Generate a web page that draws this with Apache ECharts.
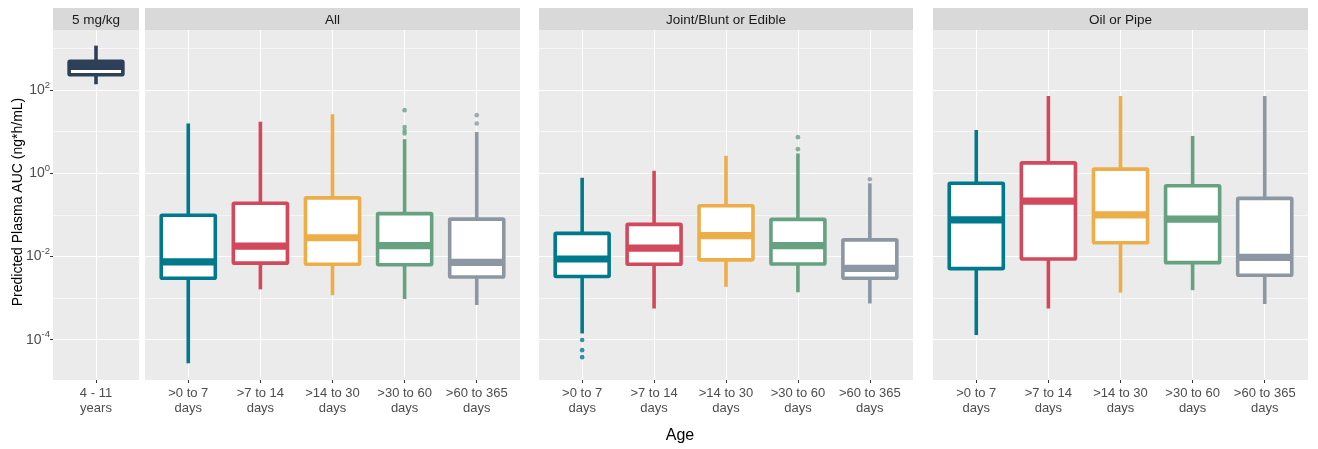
<!DOCTYPE html>
<html><head><meta charset="utf-8">
<script src="https://cdn.jsdelivr.net/npm/echarts@6/dist/echarts.min.js"></script>
<style>html,body{margin:0;padding:0;background:#fff}#c{width:1318px;height:449px}</style>
</head><body><div id="c"></div>
<script>
// ---------- data ----------
const panelTitles = ['5 mg/kg', 'All', 'Joint/Blunt or Edible', 'Oil or Pipe'];
const doseCategories = ['4 - 11\nyears'];
const ageCategories = ['>0 to 7\ndays', '>7 to 14\ndays', '>14 to 30\ndays', '>30 to 60\ndays', '>60 to 365\ndays'];
const yLabelExponents = [-4, -2, 0, 2];
const yGridExponents = [-4, -3, -2, -1, 0, 1, 2, 3];
const yAxisTitle = 'Predicted Plasma AUC (ng*h/mL)';
const xAxisTitle = 'Age';

// five-number summaries per box: [lower whisker, Q1, median, Q3, upper whisker] in ng*h/mL
const dose5mgkg = [[138, 234, 372, 490, 1175]];
const dose5mgkgOutliers = [[]];

const allRoutes = [
  [2.7e-5, 0.0030, 0.0074, 0.098, 15.8],
  [0.00162, 0.0069, 0.0178, 0.19, 17.4],
  [0.00117, 0.0065, 0.0282, 0.257, 26.3],
  [0.00095, 0.0063, 0.0182, 0.107, 6.6],
  [0.00068, 0.0032, 0.0072, 0.079, 9.8]
];
const allRoutesOutliers = [[], [], [], [9.1, 10.5, 12.9, 33], [15.8, 25]];

const jointEdible = [
  [1.41e-4, 0.0033, 0.0087, 0.036, 0.78],
  [5.6e-4, 0.0065, 0.0158, 0.059, 1.15],
  [0.00186, 0.0083, 0.0316, 0.166, 2.63],
  [0.00138, 0.0066, 0.0182, 0.078, 3.0],
  [7.4e-4, 0.0030, 0.0052, 0.025, 0.575]
];
const jointEdibleOutliers = [[9.8e-5, 5.6e-5, 3.8e-5], [], [], [3.8, 7.4], [0.72]];

const oilPipe = [
  [1.29e-4, 0.0051, 0.076, 0.575, 11],
  [5.6e-4, 0.0087, 0.214, 1.78, 72],
  [0.00135, 0.0214, 0.10, 1.26, 72],
  [0.00155, 0.0071, 0.079, 0.50, 7.9],
  [7.2e-4, 0.00355, 0.0095, 0.25, 72]
];
const oilPipeOutliers = [[], [], [], [], []];

// ---------- styling ----------
const ageColors = ['#00798c', '#d1495b', '#edae49', '#66a182', '#8d96a3'];
const doseColors = ['#2e4057'];
const FONT = '"Liberation Sans", Arial, sans-serif';
const BOX_WIDTH = 0.75;
const LW = 3.6;
const Y_MIN = -4.97, Y_MAX = 3.445;

const panels = [
  { title: panelTitles[0], cats: doseCategories, stats: dose5mgkg, outliers: dose5mgkgOutliers, colors: doseColors, left: 53, width: 86 },
  { title: panelTitles[1], cats: ageCategories, stats: allRoutes, outliers: allRoutesOutliers, colors: ageColors, left: 145, width: 375 },
  { title: panelTitles[2], cats: ageCategories, stats: jointEdible, outliers: jointEdibleOutliers, colors: ageColors, left: 539, width: 374 },
  { title: panelTitles[3], cats: ageCategories, stats: oilPipe, outliers: oilPipeOutliers, colors: ageColors, left: 933, width: 375 }
];
const TOP = 30, HEIGHT = 350;

function makeBoxRenderer(colors) {
  return function (params, api) {
    const x = api.value(0);
    const c = colors[Math.round(x) - 1];
    const pLo = api.coord([x, api.value(1)]);
    const pQ1 = api.coord([x, api.value(2)]);
    const pMed = api.coord([x, api.value(3)]);
    const pQ3 = api.coord([x, api.value(4)]);
    const pHi = api.coord([x, api.value(5)]);
    const half = api.size([BOX_WIDTH, 0], [x, api.value(3)])[0] / 2;
    return {
      type: 'group',
      children: [
        { type: 'line', shape: { x1: pQ3[0], y1: pQ3[1], x2: pHi[0], y2: pHi[1] }, style: { stroke: c, lineWidth: LW } },
        { type: 'line', shape: { x1: pLo[0], y1: pLo[1], x2: pQ1[0], y2: pQ1[1] }, style: { stroke: c, lineWidth: LW } },
        { type: 'rect', shape: { x: pQ1[0] - half, y: pQ3[1], width: 2 * half, height: pQ1[1] - pQ3[1], r: 1 },
          style: { fill: '#ffffff', stroke: c, lineWidth: LW, lineJoin: 'round' } },
        { type: 'line', shape: { x1: pMed[0] - half, y1: pMed[1], x2: pMed[0] + half, y2: pMed[1] }, style: { stroke: c, lineWidth: LW * 2 } }
      ]
    };
  };
}

const grid = [], xAxis = [], yAxis = [], series = [], graphic = [];
panels.forEach((p, i) => {
  const n = p.cats.length;
  const idx = [];
  for (let k = 1; k <= n; k++) idx.push(k);
  grid.push({ left: p.left, top: TOP, width: p.width, height: HEIGHT, show: true, backgroundColor: '#EBEBEB', borderWidth: 0, containLabel: false });
  xAxis.push({
    type: 'value', gridIndex: i, min: 0.4, max: n + 0.6, position: 'bottom',
    axisLine: { show: false, onZero: false },
    axisTick: { show: true, length: 3, customValues: idx, lineStyle: { color: '#333333', width: 1 } },
    axisLabel: { customValues: idx, margin: 6, fontFamily: FONT, fontSize: 13, color: '#4D4D4D', lineHeight: 15,
      formatter: v => p.cats[Math.round(v) - 1] },
    splitLine: { show: true, lineStyle: { color: '#FFFFFF', width: 1 } }
  });
  yAxis.push({
    type: 'value', gridIndex: i, min: Y_MIN, max: Y_MAX,
    axisLine: { show: false, onZero: false },
    axisTick: { show: false, customValues: yGridExponents },
    axisLabel: { show: false },
    splitLine: { show: true, lineStyle: { color: ['#FFFFFF', '#F6F6F6'], width: 1 } }
  });
  const boxData = p.stats.map((s, k) => [k + 1].concat(s.map(v => Math.log10(v))));
  series.push({
    type: 'custom', xAxisIndex: i, yAxisIndex: i, renderItem: makeBoxRenderer(p.colors),
    encode: { x: 0, y: [1, 2, 3, 4, 5] }, data: boxData, z: 3, silent: true
  });
  const outData = [];
  p.outliers.forEach((arr, k) => arr.forEach(v => outData.push({ value: [k + 1, Math.log10(v)], itemStyle: { color: p.colors[k] } })));
  series.push({
    type: 'scatter', xAxisIndex: i, yAxisIndex: i, symbol: 'circle', symbolSize: 4.6, data: outData, z: 4, silent: true
  });
  graphic.push({ type: 'rect', silent: true, shape: { x: p.left, y: 8, width: p.width, height: 22 }, style: { fill: '#D9D9D9' } });
  graphic.push({ type: 'text', silent: true, x: p.left + p.width / 2, y: 20,
    style: { text: p.title, fontFamily: FONT, fontSize: 13.5, fill: '#1A1A1A', align: 'center', verticalAlign: 'middle', textAlign: 'center', textVerticalAlign: 'middle' } });
});

// y labels on first panel
yAxis.push({
  type: 'value', gridIndex: 0, min: Y_MIN, max: Y_MAX, position: 'left', offset: 0,
  axisLine: { show: false, onZero: false },
  axisTick: { show: true, length: 3, customValues: yLabelExponents, lineStyle: { color: '#333333', width: 1 } },
  axisLabel: { customValues: yLabelExponents, margin: 3, color: '#4D4D4D', fontFamily: FONT, fontSize: 14,
    formatter: v => '{b|10}{s|' + Math.round(v) + '}',
    rich: {
      b: { fontSize: 14, fontFamily: FONT, color: '#4D4D4D', lineHeight: 14, verticalAlign: 'bottom', padding: [10, 0, 0, 0] },
      s: { fontSize: 9.5, fontFamily: FONT, color: '#4D4D4D', lineHeight: 10, verticalAlign: 'bottom', padding: [0, 0, 7, 0] }
    } },
  splitLine: { show: false }
});

graphic.push({ type: 'text', silent: true, x: 18, y: 202, rotation: Math.PI / 2,
  style: { text: yAxisTitle, fontFamily: FONT, fontSize: 14, fill: '#000000', align: 'center', verticalAlign: 'middle', textAlign: 'center', textVerticalAlign: 'middle' } });
graphic.push({ type: 'text', silent: true, x: 680, y: 436,
  style: { text: xAxisTitle, fontFamily: FONT, fontSize: 16, fill: '#000000', align: 'center', verticalAlign: 'middle', textAlign: 'center', textVerticalAlign: 'middle' } });

const chart = echarts.init(document.getElementById('c'), null, { renderer: 'canvas' });
chart.setOption({ animation: false, backgroundColor: '#ffffff', grid, xAxis, yAxis, series, graphic });
</script></body></html>
